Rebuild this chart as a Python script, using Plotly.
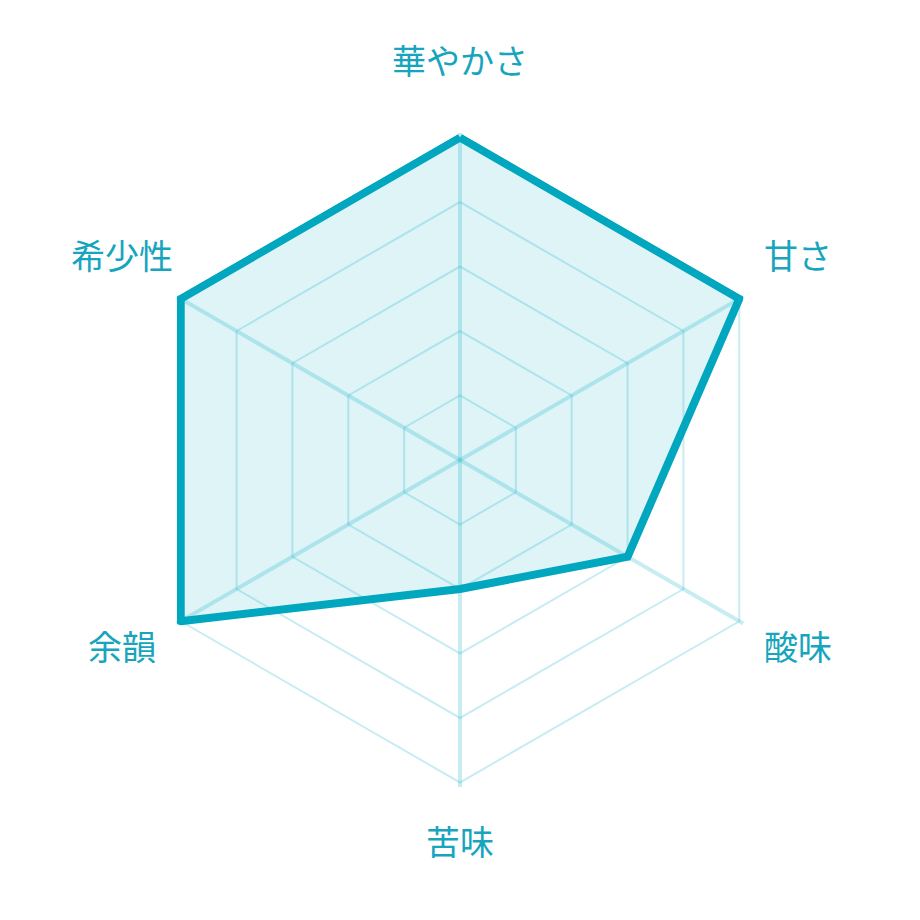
import math
import plotly.graph_objects as go

# 評価項目と値
categories = ['華やかさ', '甘さ', '酸味', '苦味', '余韻', '希少性']
values = [5, 5, 3, 2, 5, 5]
grid_ticks = [1, 2, 3, 4, 5]
r_max = 5.07  # 外周の太線が切れないよう少しだけ余白を持たせる

line_color = '#00a7bf'
text_color = '#17a5be'
grid_color = 'rgba(0, 172, 200, 0.22)'

# 描画エリア（ページの余白 8px 分を差し引いて中心を合わせる）
plot_size = 655
label_radius = 391  # px、中心からラベルまで

fig = go.Figure()

fig.add_trace(go.Scatterpolar(
    r=values + values[:1],
    theta=categories + categories[:1],
    mode='lines',
    fill='toself',
    fillcolor='rgba(0, 170, 195, 0.13)',
    line=dict(color=line_color, width=8),
    cliponaxis=False,
    hoverinfo='skip',
))

# ラベルは軸の外側に注釈で配置
annotations = []
for i, cat in enumerate(categories):
    ang = math.radians(i * 360 / len(categories))
    annotations.append(dict(
        text=cat,
        xref='paper', yref='paper',
        x=0.5 + label_radius * math.sin(ang) / plot_size,
        y=0.5 + label_radius * math.cos(ang) / plot_size,
        xanchor='center', yanchor='middle',
        yshift=10,
        showarrow=False,
        font=dict(family='Noto Sans CJK JP', size=34, color=text_color),
    ))

fig.update_layout(
    width=920,
    height=920,
    margin=dict(l=124.5, r=140.5, t=124.5, b=140.5),
    paper_bgcolor='white',
    showlegend=False,
    font=dict(family='Noto Sans CJK JP', size=34, color=text_color),
    annotations=annotations,
    polar=dict(
        bgcolor='rgba(0,0,0,0)',
        gridshape='linear',
        domain=dict(x=[0, 1], y=[0, 1]),
        radialaxis=dict(
            range=[0, r_max],
            tickvals=grid_ticks,
            showticklabels=False,
            ticks='',
            showline=False,
            gridcolor=grid_color,
            gridwidth=1.5,
        ),
        angularaxis=dict(
            direction='clockwise',
            rotation=90,
            ticks='',
            showticklabels=False,
            showline=False,
            gridcolor=grid_color,
            gridwidth=4,
        ),
    ),
)

fig.write_html('out.html')
